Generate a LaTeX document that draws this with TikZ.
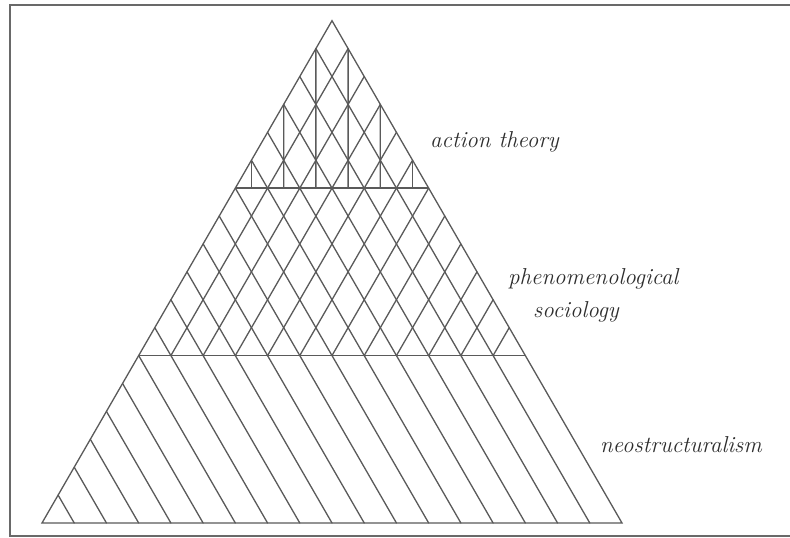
\documentclass[tikz,border=0pt]{standalone}
\usepackage{tikz}
\definecolor{hatch}{RGB}{90,90,90}
\definecolor{framec}{RGB}{105,105,105}
\definecolor{labelc}{RGB}{45,45,45}
\begin{document}
\begin{tikzpicture}[
    x=1pt, y=1pt,
    hatchline/.style={draw=hatch, line width=1.3pt, line cap=round},
    bandline/.style={draw=hatch, line width=1.8pt},
    label/.style={text=labelc, anchor=base west, inner sep=0pt,
                  font=\fontsize{23}{28}\selectfont\itshape}
]
% page and frame
\useasboundingbox[fill=white] (0,0) rectangle (790,538);
\draw[framec, line width=2pt] (795,533) -- (10,533) -- (10,2) -- (795,2);

% triangular lattice: x along the base, y along the left side
\begin{scope}[shift={(42,15)}, x={(32.222pt,0pt)}, y={(16.111pt,27.905pt)}]
  % lines parallel to the right side, across the whole triangle
  \foreach \m in {1,...,17}
    \draw[hatchline] (0,\m) -- (\m,0);
  % lines parallel to the left side, upper two bands only
  \foreach \k in {1,...,11}
    \draw[hatchline] (\k,6) -- (\k,{18-\k});
  % verticals in the top band
  \draw[hatchline] (0,13) -- (0.5,12);
  \draw[hatchline] (0,15) -- (1.5,12);
  \draw[hatchline] (0,17) -- (2.5,12);
  \draw[hatchline] (1,17) -- (3.5,12);
  \draw[hatchline] (3,15) -- (4.5,12);
  \draw[hatchline] (5,13) -- (5.5,12);
  % band boundaries
  \draw[bandline] (0,6) -- (12,6);
  \draw[bandline] (0,12) -- (6,12);
  % outline
  \draw[hatchline, line join=miter] (0,0) -- (18,0) -- (0,18) -- cycle;
\end{scope}

% labels
\node[label] (action) at (430,390) {action theory};
\node[label] (phen)   at (508,253) {phenomenological};
\node[label] (soc)    at (533,220) {sociology};
\node[label] (neo)    at (600,85)  {neostructuralism};
\end{tikzpicture}
\end{document}
